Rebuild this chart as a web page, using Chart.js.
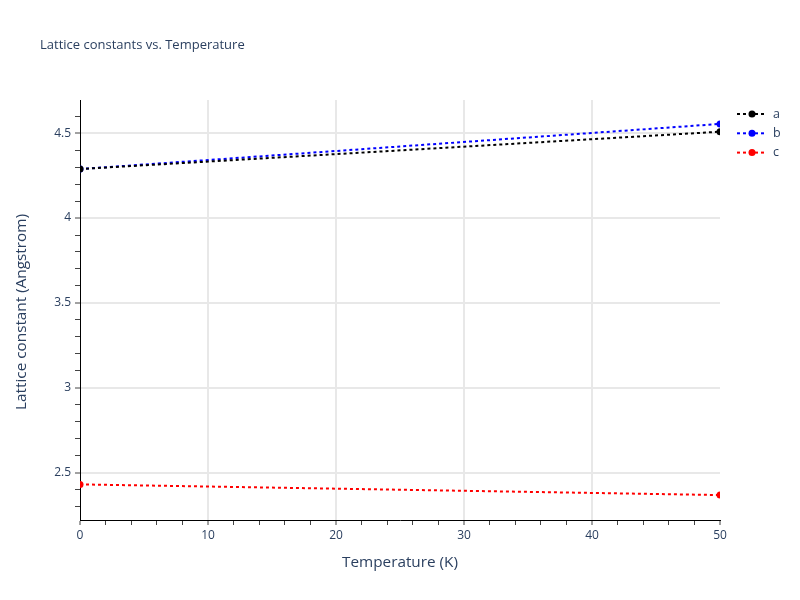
<!DOCTYPE html>
<html>
<head>
<meta charset="utf-8">
<script src="https://cdn.jsdelivr.net/npm/chart.js@4/dist/chart.umd.min.js"></script>
<style>
  html, body { margin: 0; padding: 0; background: #fff; }
  canvas { display: block; }
</style>
</head>
<body>
<canvas id="c" width="800" height="600"></canvas>
<script>
// ---- data ----
const chartTitle = "Lattice constants vs. Temperature";
const xTitle = "Temperature (K)";
const yTitle = "Lattice constant (Angstrom)";
const temperatures = [0, 50];
const latticeA = [4.289, 4.509];
const latticeB = [4.289, 4.555];
const latticeC = [2.430, 2.367];
const seriesNames = ["a", "b", "c"];
const seriesColors = ["#000000", "#0000ff", "#ff0000"];
const xMajorTicks = [0, 10, 20, 30, 40, 50];
const yMajorTicks = [2.5, 3, 3.5, 4, 4.5];
const xRange = [0, 50];
const yRange = [2.220, 4.696];

const FONT = '"Open Sans", "Noto Sans", sans-serif';
const TEXT = '#2a3f5f';
Chart.defaults.font.family = FONT;
Chart.defaults.color = TEXT;

function pts(vals) { return temperatures.map((t, i) => ({ x: t, y: vals[i] })); }
const allSeries = [latticeA, latticeB, latticeC];

const datasets = allSeries.map((vals, i) => ({
  label: seriesNames[i],
  data: pts(vals),
  borderColor: seriesColors[i],
  backgroundColor: seriesColors[i],
  borderWidth: 2,
  borderDash: [3, 3],
  tension: 0,
  pointRadius: 3.5,
  pointBorderWidth: 0,
  pointBackgroundColor: seriesColors[i],
  fill: false
}));

const isMajorX = v => xMajorTicks.some(m => Math.abs(m - v) < 1e-6);
const isMajorY = v => yMajorTicks.some(m => Math.abs(m - v) < 1e-6);

const overlay = {
  id: 'overlay',
  afterDraw(chart) {
    const ctx = chart.ctx;
    const ca = chart.chartArea;
    ctx.save();
    // title
    ctx.fillStyle = TEXT;
    ctx.font = '13px ' + FONT;
    ctx.textAlign = 'left';
    ctx.textBaseline = 'middle';
    ctx.fillText(chartTitle, 40, 45);
    // x title
    ctx.font = '15.3px ' + FONT;
    ctx.textAlign = 'center';
    ctx.fillText(xTitle, (ca.left + ca.right) / 2, 563);
    // y title
    ctx.save();
    ctx.translate(22, (ca.top + ca.bottom) / 2 + 2);
    ctx.rotate(-Math.PI / 2);
    ctx.fillText(yTitle, 0, 0);
    ctx.restore();
    // legend
    chart.data.datasets.forEach((ds, i) => {
      const y = 114 + i * 19.3;
      ctx.strokeStyle = ds.borderColor;
      ctx.lineWidth = 2;
      ctx.setLineDash([3, 3]);
      ctx.beginPath();
      ctx.moveTo(737, y);
      ctx.lineTo(767, y);
      ctx.stroke();
      ctx.setLineDash([]);
      ctx.fillStyle = ds.borderColor;
      ctx.beginPath();
      ctx.arc(752, y, 3.5, 0, Math.PI * 2);
      ctx.fill();
      ctx.fillStyle = TEXT;
      ctx.font = '12.5px ' + FONT;
      ctx.textAlign = 'left';
      ctx.fillText(ds.label, 773, y);
    });
    ctx.restore();
  }
};

new Chart(document.getElementById('c'), {
  type: 'line',
  data: { datasets },
  options: {
    responsive: false,
    animation: false,
    devicePixelRatio: 1,
    layout: { padding: { left: 0, right: 80, top: 100, bottom: 0 } },
    plugins: { legend: { display: false }, title: { display: false }, tooltip: { enabled: false } },
    scales: {
      x: {
        type: 'linear',
        min: xRange[0], max: xRange[1],
        afterFit(s) { s.height = 80; },
        afterBuildTicks(s) {
          const t = [];
          for (let i = 0; i <= 25; i++) t.push({ value: i * 2 });
          s.ticks = t;
        },
        ticks: {
          autoSkip: false, maxRotation: 0, padding: 3,
          font: { size: 12 }, color: TEXT,
          callback: v => isMajorX(v) ? String(v) : ''
        },
        grid: {
          drawOnChartArea: true,
          color: c => (c.tick && isMajorX(c.tick.value) && c.tick.value !== 0 && c.tick.value !== 50) ? '#e8e8e8' : 'rgba(0,0,0,0)',
          lineWidth: c => (c.tick && isMajorX(c.tick.value)) ? 2 : 1,
          tickColor: '#444',
          tickLength: 5,
          tickWidth: 1
        },
        border: { display: true, color: '#000', width: 1 }
      },
      y: {
        type: 'linear',
        min: yRange[0], max: yRange[1],
        afterFit(s) { s.width = 80; },
        afterBuildTicks(s) {
          const t = [];
          for (let i = 23; i <= 46; i++) t.push({ value: i / 10 });
          s.ticks = t;
        },
        ticks: {
          autoSkip: false, padding: 4,
          font: { size: 12 }, color: TEXT,
          callback: v => isMajorY(v) ? String(Math.round(v * 10) / 10) : ''
        },
        grid: {
          color: c => (c.tick && isMajorY(c.tick.value)) ? '#e8e8e8' : 'rgba(0,0,0,0)',
          lineWidth: c => (c.tick && isMajorY(c.tick.value)) ? 2 : 1,
          tickColor: '#444',
          tickLength: 5,
          tickWidth: 1
        },
        border: { display: true, color: '#000', width: 1 }
      }
    }
  },
  plugins: [overlay]
});
</script>
</body>
</html>
